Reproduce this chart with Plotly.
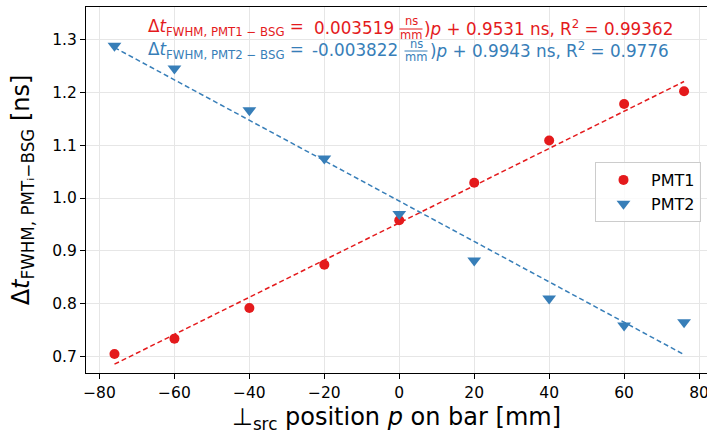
import numpy as np
import plotly.graph_objects as go

# ---- data ----
positions = [-76, -60, -40, -20, 0, 20, 40, 60, 76]
pmt1 = [0.705, 0.734, 0.792, 0.874, 0.958, 1.029, 1.109, 1.178, 1.202]
pmt2 = [1.288, 1.245, 1.166, 1.075, 0.970, 0.882, 0.810, 0.759, 0.765]
fit1 = [0.003519, 0.9531]   # slope, intercept
fit2 = [-0.003822, 0.9943]
r2_1 = "0.99362"
r2_2 = "0.9776"
xticks = [-80, -60, -40, -20, 0, 20, 40, 60, 80]
yticks = [0.7, 0.8, 0.9, 1.0, 1.1, 1.2, 1.3]

RED = "#e41a1c"
BLUE = "#377eb8"
FONT = "DejaVu Sans"

W, H = 707, 434
L, R, T, B = 86, 707, 7, 373


def px_x(p):
    return (p - L) / (R - L)


def px_y(p):
    return (B - p) / (B - T)


xfit = np.array([min(positions), max(positions)], dtype=float)

fig = go.Figure()
fig.add_trace(go.Scatter(x=xfit, y=fit1[0] * xfit + fit1[1], mode="lines",
                         line=dict(color=RED, width=1.5, dash="5px,3px"),
                         showlegend=False, hoverinfo="skip"))
fig.add_trace(go.Scatter(x=xfit, y=fit2[0] * xfit + fit2[1], mode="lines",
                         line=dict(color=BLUE, width=1.5, dash="5px,3px"),
                         showlegend=False, hoverinfo="skip"))
fig.add_trace(go.Scatter(x=positions, y=pmt1, mode="markers", name="PMT1",
                         marker=dict(symbol="circle", size=10, color=RED)))
fig.add_trace(go.Scatter(x=positions, y=pmt2, mode="markers", name="PMT2",
                         marker=dict(symbol="triangle-down", size=12, color=BLUE)))

axis_common = dict(
    showgrid=True, gridcolor="#e6e6e6", gridwidth=1,
    showline=True, linecolor="black", linewidth=1.2,
    ticks="outside", ticklen=5, tickwidth=1.2, tickcolor="black",
    tickfont=dict(family=FONT, size=15.5, color="black"),
    zeroline=False, automargin=False, ticklabeloverflow="allow",
)

fig.update_layout(
    width=W, height=H,
    margin=dict(l=L, r=W - R, t=T, b=H - B),
    paper_bgcolor="white", plot_bgcolor="white",
    font=dict(family=FONT, color="black"),
    xaxis=dict(range=[-83.6, (R - 399.3) / 3.747], tickvals=xticks,
               mirror=True,
               title=dict(text="⊥<sub>src</sub> position <i>p</i> on bar [mm]",
                          font=dict(family=FONT, size=24)),
               **axis_common),
    yaxis=dict(range=[0.669, 1.3615], tickvals=yticks, tickformat=".1f",
               mirror=False,
               title=dict(text="Δ<i>t</i><sub>FWHM, PMTᵢ−BSG</sub> [ns]",
                          font=dict(family=FONT, size=24)),
               **axis_common),
    legend=dict(x=px_x(595), y=px_y(162), xanchor="left", yanchor="top",
                bgcolor="rgba(255,255,255,0.8)", bordercolor="#cccccc",
                borderwidth=1, itemwidth=45,
                font=dict(family=FONT, size=16, color="black")),
)


def ann(x, y, text, size, color, xanchor):
    fig.add_annotation(xref="paper", yref="paper", x=px_x(x), y=px_y(y),
                       xanchor=xanchor, yanchor="middle", showarrow=False,
                       text=text, font=dict(family=FONT, size=size, color=color))


def eq_line(color, lhs, slope, rest, a_left, a_right, frac_c, c_left, yc):
    ann(a_left, yc, lhs + " =", 16.8, color, "left")
    ann(a_right, yc, slope, 16.8, color, "right")
    ann(frac_c, yc - 6.5, "ns", 11.5, color, "center")
    ann(frac_c, yc + 7, "mm", 11.5, color, "center")
    fig.add_shape(type="line", xref="paper", yref="paper",
                  x0=px_x(frac_c - 11.5), x1=px_x(frac_c + 11.5),
                  y0=px_y(yc + 1), y1=px_y(yc + 1),
                  line=dict(color=color, width=1))
    ann(c_left, yc, rest, 16.8, color, "left")


eq_line(RED, "Δ<i>t</i><sub>FWHM, PMT1 − BSG</sub>", f"{fit1[0]:.6f}",
        f")<i>p</i> + {fit1[1]:.4f} ns, R<sup>2</sup> = {r2_1}",
        146, 396, 411, 422, 28)
eq_line(BLUE, "Δ<i>t</i><sub>FWHM, PMT2 − BSG</sub>", f"{fit2[0]:.6f}",
        f")<i>p</i> + {fit2[1]:.4f} ns, R<sup>2</sup> = {r2_2}",
        146, 400, 416, 428, 50)

fig.write_html("out.html", post_script="document.body.style.margin='0px';",
               config={"displayModeBar": False})
